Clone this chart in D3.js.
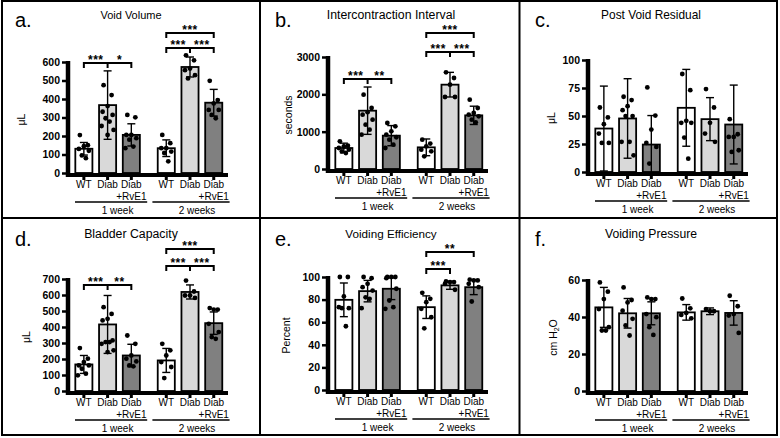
<!DOCTYPE html>
<html><head><meta charset="utf-8">
<script src="https://cdn.jsdelivr.net/npm/d3@7"></script>
<style>
html,body{margin:0;padding:0;background:#fff;}
text{font-family:"Liberation Sans",Arial,sans-serif;}
</style>
</head><body>
<svg id="chart" width="780" height="438"></svg>
<script>
// ---------------- DATA ----------------
const groups = ["1 week", "2 weeks"];
const conditions = ["WT", "Diab", "Diab+RvE1"];
const conditionLabels = [["WT"], ["Diab"], ["Diab", "+RvE1"]];

const panelTitles = ["Void Volume", "Intercontraction Interval", "Post Void Residual",
                     "Bladder Capacity", "Voiding Efficiency", "Voiding Pressure"];
const panelLetters = ["a.", "b.", "c.", "d.", "e.", "f."];
const yAxisTitles = ["μL", "seconds", "μL", "μL", "Percent", "cm H2O"];
const yMax = [600, 3000, 100, 700, 100, 60];
const yStep = [100, 1000, 25, 100, 20, 20];

// order of bars: 1wk WT, 1wk Diab, 1wk Diab+RvE1, 2wk WT, 2wk Diab, 2wk Diab+RvE1
const voidVolumeMean = [131, 367, 206, 134, 573, 380];
const voidVolumeSD   = [34, 185, 60, 45, 54, 72];
const voidVolumePts  = [[205,150,145,130,120,95,80],[475,421,362,331,314,296,278,254,233,206],
  [314,301,206,206,188,180,143,134],[206,161,134,134,116,108,63],[636,609,565,556,529,511],
  [498,394,376,341,341,314,296]];

const iciMean = [562, 1562, 893, 580, 2259, 1437];
const iciSD   = [130, 634, 270, 224, 330, 245];
const iciPts  = [[741,625,607,562,518,473,429],[1991,1634,1521,1455,1321,1188,1054,920],
  [1232,1143,1009,920,850,786,652,562],[786,680,607,518,473,339],[2589,2438,2259,1929,1929],
  [1857,1634,1500,1455,1411,1321,1250]];

const pvrMean = [38.8, 47.8, 24.5, 57.3, 47.2, 42.4];
const pvrSD   = [37.9, 35.5, 25.9, 34.3, 19.2, 35.2];
const pvrPts  = [[57.6,48.7,42.7,34.3,26,26],[67.2,64.2,58.8,55.2,49.9,49.9,26.9,26.9,14.9],
  [75.5,50.4,37.9,26,22.4,7.5],[87.5,73.1,45.7,43.9,43.9,30.7,11.9],[74,57.6,43.9,34.3,26.9],
  [47.2,33.7,31.3,31.3,19.4,17.9]];

const capMean = [166, 416, 222, 191, 619, 424];
const capSD   = [56, 181, 70, 75, 44, 70];
const capPts  = [[268,202,181,160,160,139,108,98],[524,482,451,441,316,306,306,295,254,243],
  [347,295,222,202,185,160,154],[295,254,222,181,150,81],[690,622,597,597,582],
  [518,509,509,420,368,337,326]];

const effMean = [79.8, 87.5, 89.6, 73.3, 92.6, 91];
const effSD   = [14.9, 9.5, 9.6, 10, 3.5, 6.6];
const effPts  = [[100,100,82.8,73.3,72.4,72.4,56.4],[100,99,94,91,88,82,80.7,72.4],
  [100,100,100,99,89.6,79.2,73.3,71.8],[86,80.7,77.7,71.8,64.4,54.6],[96,95.5,95.5,94,88.7],
  [97.6,97,97,94,91,78.3]];

const presMean = [45.2, 42, 42, 42.5, 43.1, 42.2];
const presSD   = [10.8, 8, 6.2, 4.2, 1.8, 6.6];
const presPts  = [[58.7,53.7,49.7,44.3,34.5,32.7,32.7],[56,49.2,47.9,43.4,39,35.4,30],
  [50.6,49.7,49.7,41.6,39.9,34.5,30.3],[50,44.7,42.2,41.1,39.3],[44.3,43.1,43.1],
  [51.5,45.8,41.6,40.8,31.4]];

// significance brackets: [from bar, to bar, middle bar or -1, left label, right label]
const sigA = [[0,2,1,"***","*"],[3,5,4,"***","***"],[3,5,-1,"***",null]];
const sigB = [[0,2,1,"***","**"],[3,5,4,"***","***"],[3,5,-1,"***",null]];
const sigC = [];
const sigD = [[0,2,1,"***","**"],[3,5,4,"***","***"],[3,5,-1,"***",null]];
const sigE = [[3,4,-1,"***",null],[3,5,-1,"**",null]];
const sigF = [];

const means = [voidVolumeMean, iciMean, pvrMean, capMean, effMean, presMean];
const sds   = [voidVolumeSD, iciSD, pvrSD, capSD, effSD, presSD];
const pts   = [voidVolumePts, iciPts, pvrPts, capPts, effPts, presPts];
const sigs  = [sigA, sigB, sigC, sigD, sigE, sigF];

// ---------------- LAYOUT ----------------
const panelOrigin = [[0,0],[260,0],[520,0],[0,219],[260,219],[520,219]];
const panelTop  = [62, 57, 60, 60, 58, 61];
const panelZero = [173, 169, 172, 172, 171, 172];
const yTitleX   = [22, 29, 32, 27, 27, 34];
const titleSize = [11, 12.3, 11.9, 12.3, 11.7, 12.2];
const bracketY  = [[63,48,33],[79,52,33],[],[66,47,30],[50,33],[]];
const fills = ["#ffffff", "#d9d9d9", "#808080"];
const jitter = [-4, 4, 0, -5, 5, -2, 2, -6, 6, 0, -3, 3];
const FONT = '"Liberation Sans",Arial,sans-serif';

const svg = d3.select("#chart");
svg.append("rect").attr("width",780).attr("height",438).attr("fill","#fff");

const x0 = d3.scaleBand().domain(groups).range([72, 225.6]).paddingInner(0.136);
const x1 = d3.scaleBand().domain(conditions).range([0, x0.bandwidth()]).paddingInner(0.28).paddingOuter(0.14);
const cx = i => x0(groups[Math.floor(i/3)]) + x1(conditions[i%3]) + x1.bandwidth()/2;

panelOrigin.forEach((o, p) => {
  const g = svg.append("g").attr("transform", `translate(${o[0]},${o[1]})`);
  const zero = panelZero[p], top = panelTop[p];
  const y = d3.scaleLinear().domain([0, yMax[p]]).range([zero, top]);

  // title & letter
  g.append("text").attr("x", 131).attr("y", 19).attr("text-anchor","middle")
    .attr("font-size", titleSize[p]).text(panelTitles[p]);
  g.append("text").attr("x", 15).attr("y", 27).attr("font-size", 20).text(panelLetters[p]);

  // y title
  const yt = g.append("text").attr("transform", `translate(${yTitleX[p]},${(top+zero)/2+2}) rotate(-90)`)
    .attr("text-anchor","middle").attr("dominant-baseline","middle").attr("font-size", 10.5);
  if (yAxisTitles[p] === "cm H2O") {
    yt.append("tspan").text("cm H");
    yt.append("tspan").attr("font-size", 7).attr("dy", 3).text("2");
    yt.append("tspan").attr("dy", -3).text("O");
  } else yt.text(yAxisTitles[p]);

  // y axis
  const ax = g.append("g").attr("transform","translate(66,0)")
    .call(d3.axisLeft(y).tickValues(d3.range(0, yMax[p] + 1e-9, yStep[p]))
      .tickFormat(d3.format("d")).tickSize(4).tickPadding(2).tickSizeOuter(0));
  ax.select(".domain").remove();
  ax.selectAll(".tick line").attr("stroke","#000").attr("stroke-width",2.5);
  ax.selectAll(".tick text").attr("font-size",10.5).attr("font-weight","bold").attr("fill","#000")
    .attr("font-family", FONT);

  g.append("line").attr("x1",68).attr("x2",68).attr("y1",top-1).attr("y2",zero+4)
    .attr("stroke","#000").attr("stroke-width",4.5);

  // bars
  means[p].forEach((m, i) => {
    const bx = cx(i) - x1.bandwidth()/2;
    g.append("rect").attr("x", bx).attr("y", y(m)).attr("width", x1.bandwidth())
      .attr("height", zero - y(m)).attr("fill", fills[i%3]).attr("stroke","#000").attr("stroke-width",1.8);
  });
  // x axis
  g.append("line").attr("x1",66).attr("x2",228).attr("y1",zero+2).attr("y2",zero+2)
    .attr("stroke","#000").attr("stroke-width",4);
  means[p].forEach((m, i) => {
    g.append("rect").attr("x", cx(i)-1.5).attr("y", zero+3).attr("width",3).attr("height",4).attr("fill","#000");
  });

  // error bars
  means[p].forEach((m, i) => {
    const s = sds[p][i];
    const lo = Math.max(0, m - s), hi = m + s;
    const c = cx(i);
    g.append("line").attr("x1",c).attr("x2",c).attr("y1",y(lo)).attr("y2",y(hi)).attr("stroke","#000").attr("stroke-width",1.4);
    g.append("line").attr("x1",c-4).attr("x2",c+4).attr("y1",y(hi)).attr("y2",y(hi)).attr("stroke","#000").attr("stroke-width",1.4);
    if (m - s > 0) g.append("line").attr("x1",c-4).attr("x2",c+4).attr("y1",y(lo)).attr("y2",y(lo)).attr("stroke","#000").attr("stroke-width",1.4);
  });

  // points
  pts[p].forEach((arr, i) => {
    g.selectAll(null).data(arr).enter().append("circle")
      .attr("cx", (d, k) => cx(i) + jitter[k % jitter.length])
      .attr("cy", d => y(d)).attr("r", 2.4).attr("fill","#000");
  });

  // x labels
  conditionLabels.forEach((lines, ci) => {
    [0,1].forEach(gi => {
      const c = cx(gi*3 + ci);
      lines.forEach((ln, li) => {
        g.append("text").attr("x", c).attr("y", zero + 15 + li*12).attr("text-anchor","middle")
          .attr("font-size", 10).text(ln);
      });
    });
  });
  // group lines and labels
  groups.forEach((gr, gi) => {
    const gx = x0(gr);
    g.append("line").attr("x1", gx + (gi? -2 : 3)).attr("x2", gx + x0.bandwidth() + 4).attr("y1", zero+29).attr("y2", zero+29)
      .attr("stroke","#000").attr("stroke-width",1.6);
    g.append("text").attr("x", gx + x0.bandwidth()/2 + (gi? 7 : 10)).attr("y", zero+41).attr("text-anchor","middle")
      .attr("font-size", 10).text(gr);
  });

  // significance brackets
  sigs[p].forEach((b, bi) => {
    const by = bracketY[p][bi];
    const xa = cx(b[0]), xb = cx(b[1]);
    const path = d3.path();
    path.moveTo(xa, by+5); path.lineTo(xa, by); path.lineTo(xb, by); path.lineTo(xb, by+5);
    if (b[2] >= 0) { path.moveTo(cx(b[2]), by); path.lineTo(cx(b[2]), by+5); }
    g.append("path").attr("d", path.toString()).attr("fill","none").attr("stroke","#000").attr("stroke-width",2);
    const star = (xx, t) => g.append("text").attr("x", xx).attr("y", by+1).attr("text-anchor","middle")
        .attr("font-size",12).attr("font-weight","bold").attr("letter-spacing",0.5).text(t);
    if (b[2] >= 0) {
      star((xa+cx(b[2]))/2, b[3]);
      star((cx(b[2])+xb)/2, b[4]);
    } else {
      star((xa+xb)/2, b[3]);
    }
  });
});

// frame and dividers
svg.append("rect").attr("x",2).attr("y",1).attr("width",775).attr("height",434)
  .attr("fill","none").attr("stroke","#000").attr("stroke-width",2);
[260, 519.5].forEach(xv => svg.append("line").attr("x1",xv).attr("x2",xv).attr("y1",1).attr("y2",435)
  .attr("stroke","#000").attr("stroke-width",2));
svg.append("line").attr("x1",2).attr("x2",777).attr("y1",218).attr("y2",218).attr("stroke","#000").attr("stroke-width",2);
</script>
</body></html>
